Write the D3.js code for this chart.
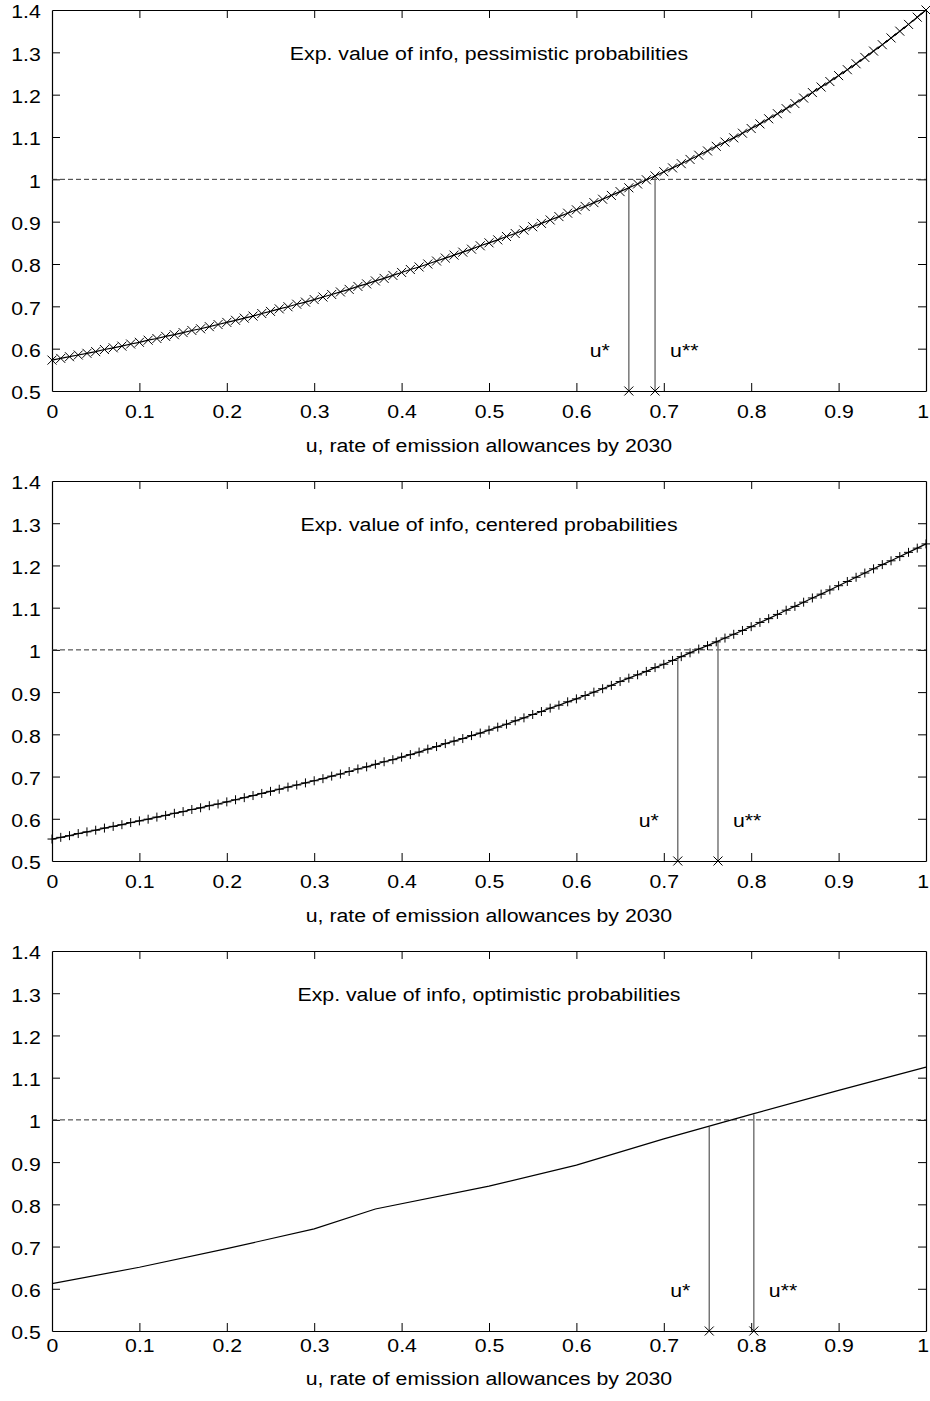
<!DOCTYPE html>
<html>
<head>
<meta charset="utf-8">
<script src="https://cdn.jsdelivr.net/npm/d3@7"></script>
<style>
  body { margin: 0; background: #fff; }
  svg text { font-family: "Liberation Sans", Arial, sans-serif; fill: #000; }
</style>
</head>
<body>
<svg id="chart"></svg>
<script>
var width = 930;
var height = 1401;

// x grid for the marked curves (one point every 0.01)
var uGrid = d3.range(0, 101).map(function (i) { return i / 100; });

var pessimistic = [
  0.573,0.577,0.581,0.585,0.589,0.593,0.598,0.602,0.606,0.611,
  0.615,0.620,0.624,0.629,0.633,0.638,0.643,0.647,0.652,0.657,
  0.662,0.667,0.672,0.677,0.683,0.688,0.694,0.699,0.705,0.710,
  0.716,0.722,0.728,0.734,0.740,0.747,0.753,0.760,0.766,0.773,
  0.780,0.787,0.793,0.800,0.807,0.814,0.821,0.828,0.835,0.843,
  0.850,0.857,0.865,0.872,0.880,0.888,0.896,0.904,0.912,0.920,
  0.928,0.936,0.945,0.953,0.962,0.971,0.980,0.989,0.999,1.008,
  1.018,1.027,1.037,1.047,1.057,1.067,1.078,1.088,1.098,1.109,
  1.120,1.131,1.143,1.155,1.167,1.179,1.192,1.205,1.218,1.231,
  1.245,1.259,1.273,1.288,1.303,1.318,1.334,1.350,1.366,1.383,
  1.400
];

var centered = [
  0.552,0.556,0.560,0.565,0.569,0.573,0.578,0.582,0.586,0.591,
  0.595,0.599,0.604,0.608,0.613,0.617,0.622,0.626,0.631,0.635,
  0.640,0.645,0.650,0.655,0.660,0.665,0.670,0.675,0.680,0.685,
  0.690,0.695,0.701,0.706,0.712,0.718,0.723,0.729,0.735,0.740,
  0.746,0.752,0.758,0.765,0.771,0.778,0.784,0.790,0.797,0.803,
  0.810,0.817,0.824,0.832,0.839,0.847,0.854,0.862,0.869,0.877,
  0.884,0.892,0.900,0.908,0.916,0.925,0.933,0.941,0.949,0.958,
  0.966,0.975,0.984,0.993,1.002,1.010,1.019,1.028,1.037,1.046,
  1.055,1.065,1.074,1.084,1.094,1.103,1.113,1.123,1.132,1.142,
  1.152,1.162,1.172,1.182,1.192,1.202,1.211,1.221,1.231,1.241,
  1.251
];

var optimisticU = [0, 0.1, 0.2, 0.3, 0.37, 0.5, 0.6, 0.7, 0.8, 0.9, 1.0];
var optimistic = [0.612, 0.651, 0.695, 0.742, 0.789, 0.843, 0.893, 0.955, 1.013, 1.070, 1.125];

var titles = [
  "Exp. value of info, pessimistic probabilities",
  "Exp. value of info, centered probabilities",
  "Exp. value of info, optimistic probabilities"
];
var uStar = [0.66, 0.716, 0.752];
var uStarTop = [0.983, 0.981, 0.984];
var uStar2 = [0.69, 0.762, 0.803];
var uStar2Top = [1.010, 1.021, 1.013];

var xTicks = [0, 0.1, 0.2, 0.3, 0.4, 0.5, 0.6, 0.7, 0.8, 0.9, 1];
var yTicks = [0.5, 0.6, 0.7, 0.8, 0.9, 1, 1.1, 1.2, 1.3, 1.4];
var xLabel = "u, rate of emission allowances by 2030";

var panels = [
  { top: 10,  bottom: 391,  u: uGrid, v: pessimistic, marker: "x", tickPad: 14, labelOff: 61 },
  { top: 481, bottom: 861,  u: uGrid, v: centered,    marker: "+", tickPad: 14, labelOff: 61 },
  { top: 951, bottom: 1331, u: optimisticU, v: optimistic, marker: null, tickPad: 8, labelOff: 54 }
];

var left = 52, right = 926;
var fontSize = 19;
var stretch = 1.12;   // the reference lettering is a bit wider than plain Arial

var svg = d3.select("#chart").attr("width", width).attr("height", height);
svg.append("rect").attr("width", width).attr("height", height).attr("fill", "#fff");

function fmt(d) { return String(+d.toFixed(1)); }

function label(g, x, y, anchor, txt) {
  return g.append("text")
    .attr("transform", "translate(" + x + "," + y + ") scale(" + stretch + ",1)")
    .attr("text-anchor", anchor)
    .style("font-size", fontSize + "px")
    .text(txt);
}

function markerPath(shape, px, py, s) {
  if (shape === "x") {
    return "M" + (px - s) + "," + (py - s) + "L" + (px + s) + "," + (py + s) +
           "M" + (px - s) + "," + (py + s) + "L" + (px + s) + "," + (py - s);
  }
  return "M" + (px - s) + "," + py + "L" + (px + s) + "," + py +
         "M" + px + "," + (py - s) + "L" + px + "," + (py + s);
}

panels.forEach(function (p, k) {
  var x = d3.scaleLinear().domain([0, 1]).range([left, right]);
  var y = d3.scaleLinear().domain([0.5, 1.4]).range([p.bottom, p.top]);
  var g = svg.append("g");

  // axes, ticks pointing inwards on all four sides
  var ax = g.append("g").attr("transform", "translate(0," + p.bottom + ")")
    .call(d3.axisBottom(x).tickValues(xTicks).tickSize(-8).tickSizeOuter(0).tickPadding(p.tickPad).tickFormat(fmt));
  var ay = g.append("g").attr("transform", "translate(" + left + ",0)")
    .call(d3.axisLeft(y).tickValues(yTicks).tickSize(-8).tickSizeOuter(0).tickPadding(10).tickFormat(fmt));
  var at = g.append("g").attr("transform", "translate(0," + p.top + ")")
    .call(d3.axisTop(x).tickValues(xTicks).tickSize(-8).tickSizeOuter(0).tickFormat(""));
  var ar = g.append("g").attr("transform", "translate(" + right + ",0)")
    .call(d3.axisRight(y).tickValues(yTicks).tickSize(-8).tickSizeOuter(0).tickFormat(""));

  [ax, ay, at, ar].forEach(function (a) {
    a.attr("font-size", null).attr("font-family", null);
    a.selectAll("line").attr("stroke", "#000").attr("stroke-width", 1);
    a.select(".domain").attr("stroke", "#000").attr("stroke-width", 1.2);
    a.selectAll("text").style("font-size", fontSize + "px").attr("transform", "scale(" + stretch + ",1)");
  });
  ay.selectAll("text").attr("dy", "0.42em");
  // keep the last x label inside the page
  ax.selectAll(".tick").filter(function (d) { return d === 1; }).select("text").attr("x", -3);
  ay.selectAll(".tick").filter(function (d) { return d === 0.5 || d === 1.4; }).select("line").remove();
  ar.selectAll(".tick").filter(function (d) { return d === 0.5 || d === 1.4; }).select("line").remove();
  ax.selectAll(".tick").filter(function (d) { return d === 0 || d === 1; }).select("line").remove();
  at.selectAll(".tick").filter(function (d) { return d === 0 || d === 1; }).select("line").remove();

  // dashed reference at 1
  g.append("line")
    .attr("x1", x(0)).attr("x2", x(1))
    .attr("y1", y(1)).attr("y2", y(1))
    .attr("stroke", "#333").attr("stroke-width", 1)
    .attr("stroke-dasharray", "5,3");

  // u* and u** drop lines
  var drops = [[uStar[k], uStarTop[k]], [uStar2[k], uStar2Top[k]]];
  g.selectAll(".drop").data(drops).enter().append("line")
    .attr("x1", function (d) { return x(d[0]); })
    .attr("x2", function (d) { return x(d[0]); })
    .attr("y1", y(0.5))
    .attr("y2", function (d) { return y(d[1]); })
    .attr("stroke", "#6e6e6e").attr("stroke-width", 1.4);
  g.append("path")
    .attr("d", drops.map(function (d) { return markerPath("x", x(d[0]), y(0.5), 4.5); }).join(""))
    .attr("stroke", "#000").attr("stroke-width", 1).attr("fill", "none");

  label(g, x(uStar[k]) - 19, y(0.58), "end", "u*");
  label(g, x(uStar2[k]) + 15, y(0.58), "start", "u**");

  // the curve
  var pts = p.u.map(function (u, i) { return [u, p.v[i]]; });
  g.append("path")
    .attr("d", d3.line().x(function (d) { return x(d[0]); }).y(function (d) { return y(d[1]); })(pts))
    .attr("fill", "none").attr("stroke", "#000").attr("stroke-width", 1.2);
  if (p.marker) {
    g.append("path")
      .attr("d", pts.map(function (d) { return markerPath(p.marker, x(d[0]), y(d[1]), 4.5); }).join(""))
      .attr("fill", "none").attr("stroke", "#000").attr("stroke-width", 1);
  }

  label(g, (left + right) / 2, p.top + 50, "middle", titles[k]);
  label(g, (left + right) / 2, p.bottom + p.labelOff, "middle", xLabel);
});
</script>
</body>
</html>
